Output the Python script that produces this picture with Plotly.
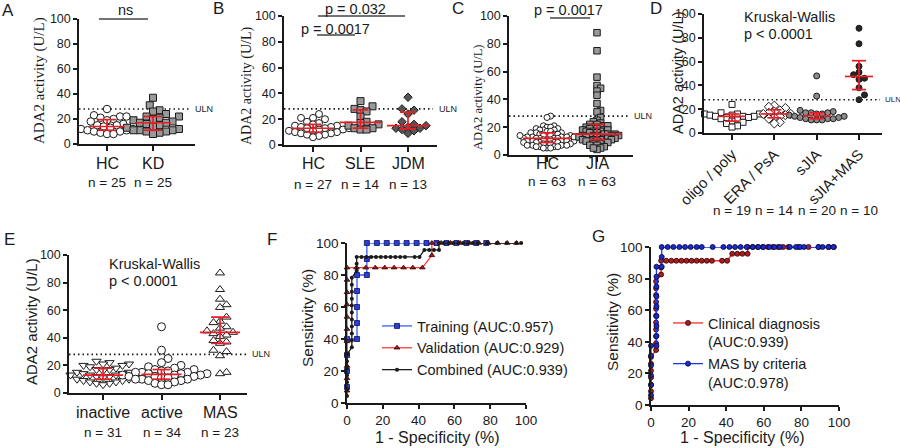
import numpy as np
import plotly.graph_objects as go

W, H = 900, 448
SANS = "Liberation Sans, Arial, sans-serif"
SERIF = "Liberation Serif, Times New Roman, serif"
INK = "#1a1a1a"
RED = "rgb(236,28,36)"

ULN = 28

# ---------------- data ----------------
# A
A_cats = ["HC", "KD"]
A_n = ["n = 25", "n = 25"]
A_HC = [28, 23, 22, 22, 21, 20, 19, 18, 16, 15, 15, 14, 14, 14, 13, 13, 12, 12, 11, 11, 10, 10, 9, 8, 8]
A_KD = [37, 31, 27, 26, 24, 22, 22, 21, 20, 19, 18, 17, 17, 16, 15, 14, 13, 12, 11, 11, 11, 10, 10, 9, 8]
# B
B_cats = ["HC", "SLE", "JDM"]
B_n = ["n = 27", "n = 14", "n = 13"]
B_HC = [24, 21, 21, 20, 18, 17, 16, 15, 15, 14, 14, 13, 13, 13, 13, 12, 12, 11, 11, 10, 10, 9, 9, 8, 8, 7, 6]
B_SLE = [34, 30, 28, 27, 26, 22, 18, 17, 16, 15, 13, 13, 12, 12]
B_JDM = [37, 28, 27, 24, 18, 16, 15, 14, 13, 13, 12, 11, 9]
# C
C_cats = ["HC", "JIA"]
C_n = ["n = 63", "n = 63"]
C_HC = [28, 27, 21, 21, 20, 20, 19, 19, 18, 18, 18, 17, 17, 16, 16, 16, 15, 15, 15,
        14, 14, 14, 14, 13, 13, 13, 13, 12, 12, 12, 12, 12, 11, 11, 11, 11,
        10, 10, 10, 10, 10, 9, 9, 9, 9, 9, 8, 8, 8, 8, 7, 7, 7, 7, 6, 6, 6, 6, 5, 5, 5, 14, 13]
C_JIA = [88, 75, 56, 50, 48, 46, 43, 37, 32, 31, 27, 25, 24, 23, 22, 22, 21, 21, 20, 20, 20,
         19, 19, 18, 18, 18, 17, 17, 17, 16, 14, 16, 15, 15, 15, 14, 14, 14, 14, 13, 13,
         13, 13, 12, 12, 12, 11, 11, 11, 11, 10, 10, 10, 9, 9, 8, 8, 7, 7, 6, 5, 4, 5]
# D
D_cats = ["oligo / poly", "ERA / PsA", "sJIA", "sJIA+MAS"]
D_n = ["n = 19", "n = 14", "n = 20", "n = 10"]
D_OLIGO = [24, 17, 16, 16, 16, 15, 15, 14, 14, 14, 13, 13, 12, 11, 10, 9, 8, 6, 5]
D_ERA = [23, 22, 21, 19, 18, 17, 16, 16, 15, 14, 13, 12, 9, 8]
D_SJIA = [48, 31, 19, 18, 17, 17, 17, 16, 16, 15, 14, 14, 13, 13, 12, 12, 12, 11, 11, 11]
D_MAS = [88, 75, 56, 51, 49, 46, 45, 38, 32, 28]
# E
E_cats = ["inactive", "active", "MAS"]
E_n = ["n = 31", "n = 34", "n = 23"]
E_INACT = [23, 22, 21, 21, 20, 20, 19, 18, 17, 17, 16, 15, 15, 14, 14, 13, 13, 13, 12, 12,
           11, 11, 10, 10, 9, 9, 8, 8, 7, 7, 6]
E_ACT = [48, 31, 25, 22, 20, 19, 18, 17, 17, 16, 16, 15, 15, 15, 14, 14, 14, 13, 13, 13,
         12, 12, 12, 11, 11, 10, 10, 10, 9, 9, 8, 7, 6, 6]
E_MAS = [87, 75, 68, 64, 62, 55, 52, 51, 48, 47, 45, 44, 43, 42, 41, 38, 37, 36, 31, 30, 27, 15, 14]

# F  ROC (1-specificity %, sensitivity %)
TRAIN_FPR = [0, 0, 0, 0, 5.6, 5.6, 5.6, 5.6, 5.6, 11.1, 11.1, 11.1, 16.7, 22.2, 27.8, 33.3,
             38.9, 44.4, 50, 55.6, 61.1, 66.7, 72.2, 77.8]
TRAIN_TPR = [10, 20, 30, 40, 40, 50, 60, 70, 80, 80, 90, 100, 100, 100, 100, 100,
             100, 100, 100, 100, 100, 100, 100, 100]
VALID_FPR = [0, 0, 0, 0, 0, 0, 0, 0, 0, 0, 0, 5.3, 10.5, 15.8, 21.1, 26.3, 31.6, 36.8, 42.1,
             47.4, 47.4, 52.6, 57.9, 63.2, 68.4, 73.7, 78.9, 84.2, 89.5, 94.7]
VALID_TPR = [7.7, 15.4, 23.1, 30.8, 38.5, 46.2, 53.8, 61.5, 69.2, 76.9, 84.6, 84.6, 84.6, 84.6,
             84.6, 84.6, 84.6, 84.6, 84.6, 92.3, 100, 100, 100, 100, 100, 100, 100, 100, 100, 100]
COMB_FPR = [0, 0, 0, 0, 0, 0, 0,
            2.7, 2.7, 2.7, 2.7, 2.7, 2.7, 2.7, 2.7, 2.7, 2.7, 2.7,
            5.4, 5.4, 5.4,
            8.1, 10.8, 13.5, 16.2, 18.9, 21.6, 24.3, 27, 29.7, 32.4, 37.8, 40.5,
            43.2, 45.9, 48.6, 51.4,
            51.4, 54.1, 56.8, 59.5, 62.2, 64.9, 67.6, 70.3, 73, 78.4, 83.8, 89.2, 94.6, 97.3]
COMB_TPR = [4.3, 8.7, 13, 17.4, 21.7, 26.1, 30.4,
            34.8, 39.1, 43.5, 47.8, 52.2, 56.5, 60.9, 65.2, 69.6, 73.9, 78.3,
            82.6, 87, 91.3,
            91.3, 91.3, 91.3, 91.3, 91.3, 91.3, 91.3, 91.3, 91.3, 91.3, 91.3, 91.3,
            95.7, 95.7, 95.7, 95.7,
            100, 100, 100, 100, 100, 100, 100, 100, 100, 100, 100, 100, 100, 100]
# G
CRIT_FPR = [0, 0, 0, 0, 0, 0,
            2.9, 2.9, 2.9, 2.9, 2.9, 2.9, 2.9, 2.9, 2.9,
            5.7, 5.7, 5.7,
            8.9, 11.9, 15.1, 18.1, 21.1, 24.3, 27, 32.8, 38.5, 41.7, 44.7, 47.7, 50.9, 54.1,
            57.1, 59.8, 62.9, 65.6, 68.6, 73.9, 77.1, 79.3, 81.4, 89, 91.3, 94.3, 97]
CRIT_TPR = [6.25, 12.5, 18.75, 25, 31.25, 37.5,
            37.5, 43.75, 50, 56.25, 62.5, 68.75, 75, 81.25, 87.5,
            87.5, 93.75, 100,
            100, 100, 100, 100, 100, 100, 100, 100, 100, 100, 100, 100, 100, 100,
            100, 100, 100, 100, 100, 100, 100, 100, 100, 100, 100, 100, 100]

# ---------------- helpers ----------------
fig = go.Figure()
annotations = []
_axn = [0]


def px2x(px):
    return px / W


def px2y(py):
    return 1 - py / H


def add_axes(x0, x1, ytop, ybot, xrange, xkw=None, ykw=None, tickfs=12.5):
    _axn[0] += 1
    i = _axn[0]
    s = "" if i == 1 else str(i)
    base = dict(showline=True, linecolor=INK, linewidth=1.5, ticks="outside", ticklen=4,
                tickwidth=1.5, tickcolor=INK, showgrid=False, zeroline=False, automargin=False,
                tickfont=dict(family=SANS, size=tickfs, color=INK), fixedrange=True)
    xa = dict(base, domain=[px2x(x0), px2x(x1)], range=xrange, anchor="y" + s)
    ya = dict(base, domain=[px2y(ybot), px2y(ytop)], range=[0, 100], anchor="x" + s,
              tickvals=[0, 20, 40, 60, 80, 100])
    if xkw:
        xa.update(xkw)
    if ykw:
        ya.update(ykw)
    fig.update_layout(**{"xaxis" + s: xa, "yaxis" + s: ya})
    return "x" + s, "y" + s


def swarm(vals, ppu_y, d):
    vals = np.asarray(vals, float)
    order = np.argsort(vals, kind="stable")
    placed = []
    off = np.zeros(len(vals))
    step = d * 0.5
    cands = [0.0]
    for j in range(1, 60):
        cands += [j * step, -j * step]
    for i in order:
        y = vals[i] * ppu_y
        for c in cands:
            if all((c - a) ** 2 + (y - b) ** 2 >= d * d for a, b in placed):
                break
        placed.append((c, y))
        off[i] = c
    return off


def text(x, y, t, size, family=SANS, xanchor="center", angle=0, color=INK):
    annotations.append(dict(x=px2x(x), y=px2y(y), xref="paper", yref="paper", text=t,
                            showarrow=False, xanchor=xanchor, yanchor="middle",
                            textangle=angle, font=dict(family=family, size=size, color=color)))


def cat_panel(box, centers, cats, nlabels, groups, styles, medw, capw, gap, uln_end, uln_lbl_x,
              cat_y=None, n_y=None, tickangle=0, catfs=16, nfs=13.5, uln_fs=9):
    x0, x1, ytop, ybot = box
    unit = (centers[-1] - centers[0]) / (len(centers) - 1)
    xr = [-(centers[0] - x0) / unit, len(centers) - 1 + (x1 - centers[-1]) / unit]
    xkw = dict(tickvals=list(range(len(cats))), tickangle=tickangle,
               tickfont=dict(family=SANS, size=catfs, color=INK), ticklen=5)
    if cat_y is None:
        xkw["ticktext"] = cats
    else:
        xkw["ticktext"] = [""] * len(cats)
        for c, lab in zip(centers, cats):
            text(c, cat_y, lab, catfs)
    xa, ya = add_axes(x0, x1, ytop, ybot, xr, xkw=xkw)
    ppu_y = (ybot - ytop) / 100.0
    # ULN dotted line
    fig.add_trace(go.Scatter(x=[xr[0], (uln_end - centers[0]) / unit], y=[ULN, ULN], mode="lines",
                             line=dict(color=INK, width=1.6, dash="1.5px,3px"), xaxis=xa, yaxis=ya,
                             showlegend=False, hoverinfo="skip"))
    text(uln_lbl_x, ybot - ULN * ppu_y, "ULN", uln_fs, xanchor="left")
    # points
    for gi, (vals, st) in enumerate(zip(groups, styles)):
        sym, fill, size = st
        off = swarm(vals, ppu_y, gap) / unit
        fig.add_trace(go.Scatter(x=gi + off, y=vals, mode="markers", xaxis=xa, yaxis=ya,
                                 marker=dict(symbol=sym, color=fill, size=size,
                                             line=dict(color=INK, width=1)),
                                 showlegend=False, cliponaxis=False, hoverinfo="y"))
    # median + IQR
    for gi, vals in enumerate(groups):
        q1, med, q3 = np.percentile(vals, [25, 50, 75], method="weibull")
        hw, cw = medw / unit, capw / unit
        xs = [gi - hw, gi + hw, None, gi, gi, None, gi - cw, gi + cw, None, gi - cw, gi + cw]
        ys = [med, med, None, q1, q3, None, q1, q1, None, q3, q3]
        fig.add_trace(go.Scatter(x=xs, y=ys, mode="lines", xaxis=xa, yaxis=ya,
                                 line=dict(color=RED, width=1.7), showlegend=False,
                                 hoverinfo="skip", cliponaxis=False))
    for c, nl in zip(centers, nlabels):
        text(c, n_y, nl, nfs)
    return xa, ya, unit


def bracket(x_a, x_b, y, color="#444"):
    fig.add_shape(type="line", xref="paper", yref="paper", x0=px2x(x_a), x1=px2x(x_b),
                  y0=px2y(y), y1=px2y(y), line=dict(color=color, width=1.5))


OPEN = "white"
# ---------------- panel A ----------------
cat_panel((79, 195, 19, 144), [107, 153], A_cats, A_n, [A_HC, A_KD],
          [("circle", OPEN, 7.5), ("square", "#999999", 7)], 18, 9, 6.5, 190, 193,
          cat_y=163, n_y=183)
text(40, 81, "ADA2 activity (U/L)", 15, family=SERIF, angle=-90)
bracket(99, 148, 19)
text(125, 10, "ns", 14.5)

# ---------------- panel B ----------------
cat_panel((284, 437, 16, 145), [313, 360, 408], B_cats, B_n, [B_HC, B_SLE, B_JDM],
          [("circle", OPEN, 7), ("square", "#999999", 7), ("diamond", "#555555", 6.5)],
          21, 8, 6, 433, 437, cat_y=163, n_y=184)
text(247, 86, "ADA2 activity (U/L)", 14, family=SERIF, angle=-90)
bracket(318, 405, 16)
text(355, 9, "p = 0.032", 14.5)
text(335, 29, "p = 0.0017", 14.5)
bracket(317, 355, 35)

# ---------------- panel C ----------------
cat_panel((509, 633, 16, 155), [547, 597], C_cats, C_n, [C_HC, C_JIA],
          [("circle", OPEN, 6), ("square", "#999999", 6.5)], 24, 8, 3.6, 628, 632,
          cat_y=163, n_y=181)
text(478, 97, "ADA2 activity (U/L)", 12.5, family=SERIF, angle=-90)
text(568, 10, "p = 0.0017", 14.5)
bracket(550, 590, 18)

# ---------------- panel D ----------------
cat_panel((704, 882, 14, 133), [732, 774, 817, 859], D_cats, D_n,
          [D_OLIGO, D_ERA, D_SJIA, D_MAS],
          [("square", OPEN, 6), ("diamond", OPEN, 7), ("circle", "#8c8c8c", 6),
           ("circle", "#262626", 6)], 14, 7, 5.5, 880, 883, n_y=210, tickangle=-45, catfs=15,
          uln_fs=8)
text(678, 73, "ADA2 activity (U/L)", 14.5, angle=-90)
text(742, 17, "Kruskal-Wallis", 14.5, xanchor="left")
text(742, 34, "p < 0.0001", 14.5, xanchor="left")

# ---------------- panel E ----------------
cat_panel((69, 247, 255, 393), [103, 162, 220], E_cats, E_n, [E_INACT, E_ACT, E_MAS],
          [("triangle-down", OPEN, 8), ("circle", OPEN, 8), ("triangle-up", OPEN, 8)],
          20, 9, 6.5, 247, 250, cat_y=412, n_y=432)
text(31, 322, "ADA2 activity (U/L)", 15, angle=-90)
text(107, 264, "Kruskal-Wallis", 14.5, xanchor="left")
text(107, 281, "p < 0.0001", 14.5, xanchor="left")

# ---------------- panel F ----------------
roc_kw = dict(tickvals=[0, 20, 40, 60, 80, 100])
xf, yf = add_axes(347, 526, 243, 403, [0, 100], xkw=roc_kw, tickfs=13.5)
fig.add_trace(go.Scatter(x=TRAIN_FPR, y=TRAIN_TPR, mode="lines+markers", xaxis=xf, yaxis=yf,
                         name="Training (AUC:0.957)", legend="legend", cliponaxis=False,
                         line=dict(color="#3b5bff", width=1.3),
                         marker=dict(symbol="square", size=5, color="#2a3fd0",
                                     line=dict(color="#0a1060", width=0.8))))
fig.add_trace(go.Scatter(x=VALID_FPR, y=VALID_TPR, mode="lines+markers", xaxis=xf, yaxis=yf,
                         name="Validation (AUC:0.929)", legend="legend", cliponaxis=False,
                         line=dict(color="#ff3b3b", width=1.3),
                         marker=dict(symbol="triangle-up", size=5, color="#a01818",
                                     line=dict(color="#300", width=0.8))))
fig.add_trace(go.Scatter(x=COMB_FPR, y=COMB_TPR, mode="lines+markers", xaxis=xf, yaxis=yf,
                         name="Combined (AUC:0.939)", legend="legend", cliponaxis=False,
                         line=dict(color=INK, width=1.3),
                         marker=dict(symbol="circle", size=4, color=INK)))
text(307, 318, "Sensitivity (%)", 15.5, angle=-90)
text(437, 437, "1 - Specificity (%)", 16)

# ---------------- panel G ----------------
xg, yg = add_axes(651, 839, 247, 405, [0, 100], xkw=roc_kw, tickfs=13.5)
fig.add_trace(go.Scatter(x=COMB_FPR, y=COMB_TPR, mode="lines+markers", xaxis=xg, yaxis=yg,
                         name="Clinical diagnosis<br>(AUC:0.939)", legend="legend2",
                         cliponaxis=False, line=dict(color="#ff2a2a", width=1.3),
                         marker=dict(symbol="circle", size=5, color="#b01c1c",
                                     line=dict(color="#2a0000", width=0.8))))
fig.add_trace(go.Scatter(x=CRIT_FPR, y=CRIT_TPR, mode="lines+markers", xaxis=xg, yaxis=yg,
                         name="MAS by criteria<br>(AUC:0.978)", legend="legend2",
                         cliponaxis=False, line=dict(color="#2035ff", width=1.3),
                         marker=dict(symbol="circle", size=5, color="#1a2ad0",
                                     line=dict(color="#000530", width=0.8))))
text(612, 322, "Sensitivity (%)", 15.5, angle=-90)
text(742, 437, "1 - Specificity (%)", 16)

# panel letters
for lx, ly, L in [(8, 10, "A"), (218, 9, "B"), (458, 8, "C"), (656, 8, "D"),
                  (9, 239, "E"), (272, 239, "F"), (598, 236, "G")]:
    text(lx, ly, L, 17)

leg_common = dict(bgcolor="rgba(0,0,0,0)", xanchor="left", yanchor="top",
                  font=dict(family=SANS, size=14.5, color=INK), tracegroupgap=0,
                  itemclick=False, itemdoubleclick=False)
fig.update_layout(
    template="none",
    width=W, height=H, margin=dict(l=0, r=0, t=0, b=0, pad=0, autoexpand=False),
    paper_bgcolor="white", plot_bgcolor="white",
    annotations=annotations,
    legend=dict(leg_common, x=px2x(377), y=px2y(310)),
    legend2=dict(leg_common, x=px2x(668), y=px2y(307), valign="top"),
    showlegend=True,
)
fig.write_html("out.html", config={"displayModeBar": False},
               post_script="document.body.style.margin='0';document.body.style.overflow='hidden';")
